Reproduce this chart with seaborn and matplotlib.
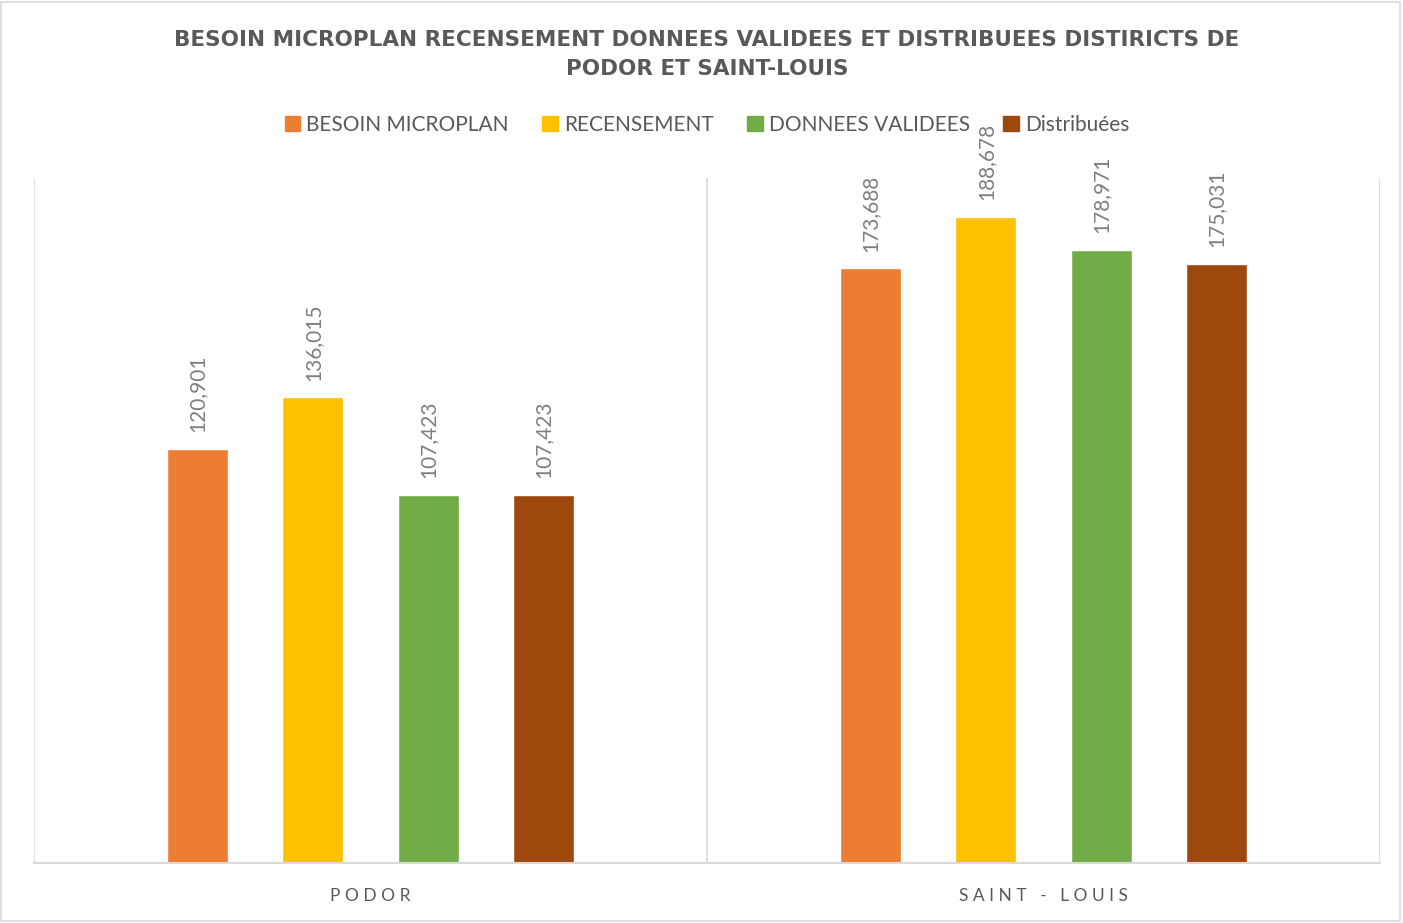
import numpy as np
import pandas as pd
import matplotlib
matplotlib.use('Agg')
import matplotlib.pyplot as plt
import matplotlib.patches as mpatches
import seaborn as sns

# data
districts = ['PODOR', 'SAINT - LOUIS']
series = ['BESOIN MICROPLAN', 'RECENSEMENT', 'DONNEES VALIDEES', 'Distribuées']
besoin = [120901, 173688]
recensement = [136015, 188678]
validees = [107423, 178971]
distribuees = [107423, 175031]
colors = ['#ED7D31', '#FFC000', '#70AD47', '#9E480E']

rows = []
for name, vals in zip(series, [besoin, recensement, validees, distribuees]):
    for d, v in zip(districts, vals):
        rows.append({'district': d, 'serie': name, 'valeur': v})
df = pd.DataFrame(rows)

sns.set_style('white')
plt.rcParams['font.family'] = ['Lato', 'DejaVu Sans']

fig = plt.figure(figsize=(14.03, 9.23), dpi=100)
ax = fig.add_axes([0.0242, 0.065, 0.9594, 0.742])

sns.barplot(data=df, x='district', y='valeur', hue='serie', hue_order=series,
            palette=colors, width=0.684, gap=0.47, ax=ax, legend=False,
            saturation=1, err_kws={'linewidth': 0})

for cont in ax.containers:
    ax.bar_label(cont, labels=['{:,}'.format(int(v)) for v in cont.datavalues],
                 rotation=90, padding=12, fontsize=15, color='#7F7F7F')

ax.set_ylim(0, 200000)
ax.set_xlim(-0.5, 1.5)
ax.set_yticks([])
ax.set_xlabel('')
ax.set_ylabel('')
for s in ['top', 'left', 'right']:
    ax.spines[s].set_visible(False)
ax.spines['bottom'].set_color('#D9D9D9')
ax.spines['bottom'].set_linewidth(1.5)
for xv in [-0.5, 0.5, 1.5]:
    ax.axvline(xv, color='#D9D9D9', linewidth=1.2, zorder=0)
ax.tick_params(axis='x', length=0, pad=18)
ax.set_xticks([0, 1])
ax.set_xticklabels(['P O D O R', 'S A I N T   -   L O U I S'], fontsize=12.5, color='#595959')

# title on two lines, as in the reference
fig.text(0.504, 0.957, 'BESOIN MICROPLAN RECENSEMENT DONNEES VALIDEES ET DISTRIBUEES DISTIRICTS DE',
         ha='center', va='center', fontsize=15.5, fontweight='bold', color='#595959',
         family='DejaVu Sans')
fig.text(0.504, 0.925, 'PODOR ET SAINT-LOUIS',
         ha='center', va='center', fontsize=15.5, fontweight='bold', color='#595959',
         family='DejaVu Sans')

handles = [mpatches.Patch(color=c, label=s) for c, s in zip(colors, series)]
fig.legend(handles=handles, loc='center', bbox_to_anchor=(0.504, 0.865), ncol=4,
           frameon=False, fontsize=15, handlelength=0.75, handleheight=0.75,
           handletextpad=0.3, columnspacing=1.6, labelcolor='#595959')

fig.add_artist(mpatches.Rectangle((0.001, 0.002), 0.997, 0.996, transform=fig.transFigure,
                                  fill=False, edgecolor='#D9D9D9', linewidth=1.2))

fig.savefig('out.png', dpi=100)
